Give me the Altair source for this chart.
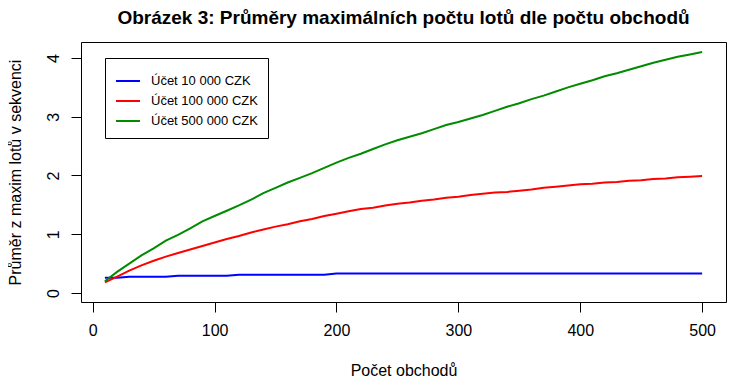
import altair as alt
import pandas as pd

x_vals = list(range(10, 501, 10))

blue_vals = [0.26, 0.26, 0.277, 0.277, 0.277, 0.277, 0.294, 0.294, 0.294, 0.294,
             0.294, 0.311, 0.311, 0.311, 0.311, 0.311, 0.311, 0.311, 0.311, 0.333] + [0.333] * 30

red_vals = [0.18, 0.28, 0.38, 0.47, 0.55, 0.62, 0.68, 0.74, 0.80, 0.86,
            0.92, 0.97, 1.03, 1.08, 1.13, 1.17, 1.22, 1.26, 1.31, 1.35,
            1.39, 1.43, 1.45, 1.49, 1.52, 1.54, 1.57, 1.59, 1.62, 1.64,
            1.67, 1.69, 1.71, 1.72, 1.74, 1.76, 1.79, 1.81, 1.83, 1.85,
            1.86, 1.88, 1.89, 1.91, 1.92, 1.94, 1.95, 1.97, 1.98, 1.99]

green_vals = [0.20, 0.36, 0.50, 0.64, 0.76, 0.89, 0.99, 1.10, 1.22, 1.31,
              1.40, 1.49, 1.59, 1.70, 1.79, 1.88, 1.96, 2.04, 2.13, 2.22,
              2.30, 2.37, 2.45, 2.53, 2.60, 2.66, 2.72, 2.79, 2.86, 2.91,
              2.97, 3.03, 3.10, 3.17, 3.23, 3.30, 3.36, 3.43, 3.50, 3.56,
              3.62, 3.69, 3.74, 3.80, 3.86, 3.92, 3.97, 4.02, 4.06, 4.10]

series_names = ["Účet 10 000 CZK", "Účet 100 000 CZK", "Účet 500 000 CZK"]
series_colors = ["#0000FF", "#FF0000", "#008B00"]
x_ticks = [0, 100, 200, 300, 400, 500]
y_ticks = [0, 1, 2, 3, 4]

rows = []
for name, vals in zip(series_names, [blue_vals, red_vals, green_vals]):
    for xv, yv in zip(x_vals, vals):
        rows.append({"x": xv, "y": yv, "s": name})
df = pd.DataFrame(rows)

FONT = "Liberation Sans"

chart = alt.Chart(df).mark_line(strokeWidth=2).encode(
    x=alt.X("x:Q",
            scale=alt.Scale(domain=[-9.6, 519.6], nice=False, zero=False),
            axis=alt.Axis(values=x_ticks, title="Počet obchodů", grid=False,
                          domain=False, tickColor="black", tickSize=10,
                          labelFont=FONT, labelFontSize=16, labelColor="black",
                          labelPadding=10, titleFont=FONT, titleFontSize=16,
                          titleFontWeight="normal", titleColor="black",
                          titleBaseline="middle", titleY=68)),
    y=alt.Y("y:Q",
            scale=alt.Scale(domain=[-0.153, 4.272], nice=False, zero=False),
            axis=alt.Axis(values=y_ticks, title="Průměr z maxim lotů v sekvenci",
                          grid=False, domain=False, tickColor="black", tickSize=10,
                          labelFont=FONT, labelFontSize=16, labelColor="black",
                          labelAngle=270, labelAlign="center",
                          labelBaseline="alphabetic", labelPadding=13,
                          titleFont=FONT, titleFontSize=16, titleFontWeight="normal",
                          titleColor="black", titleAngle=270, titleAlign="center",
                          titleBaseline="middle", titleX=-66, titleY=130)),
    color=alt.Color("s:N",
                    scale=alt.Scale(domain=series_names, range=series_colors),
                    legend=alt.Legend(title=None, orient="none", legendX=24, legendY=16,
                                      strokeColor="black", fillColor="white",
                                      padding=10, symbolType="stroke",
                                      symbolSize=576, symbolStrokeWidth=2,
                                      labelFont=FONT, labelFontSize=13,
                                      labelColor="black", labelOffset=10,
                                      rowPadding=-8)),
).properties(
    width=645,
    height=260,
    background="white",
    title=alt.TitleParams(
        "Obrázek 3: Průměry maximálních počtu lotů dle počtu obchodů",
        font=FONT, fontSize=19, fontWeight="bold", color="black",
        anchor="middle", baseline="alphabetic", offset=0, dy=1),
    autosize=alt.AutoSizeParams(type="none"),
    padding={"left": 73, "top": 34, "right": 4, "bottom": 76},
).configure_view(
    stroke="black", strokeWidth=1
)

chart.save("out.html", embed_options={"renderer": "svg", "actions": False})
